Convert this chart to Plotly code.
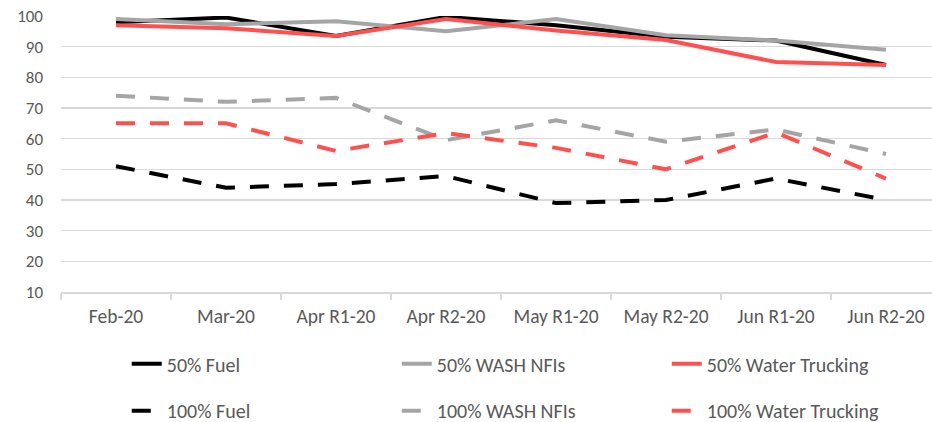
import plotly.graph_objects as go

categories = ["Feb-20", "Mar-20", "Apr R1-20", "Apr R2-20", "May R1-20", "May R2-20", "Jun R1-20", "Jun R2-20"]

fuel_50 = [98, 99.5, 93.5, 99.7, 97, 93.2, 92, 84]
wash_50 = [99, 97.3, 98.3, 95, 99, 93.7, 92, 89]
water_50 = [97, 96, 93.5, 99, 95.3, 92.2, 85, 84]
fuel_100 = [51, 44, 45.2, 47.8, 39, 40, 47, 40]
wash_100 = [74, 72, 73.3, 59.5, 66, 59, 63, 55]
water_100 = [65, 65, 56, 61.8, 57, 50, 62, 47]

y_ticks = [10, 20, 30, 40, 50, 60, 70, 80, 90, 100]

BLACK = "#000000"
GREY = "#A5A5A5"
RED = "#FF5050"
TEXT = "#595959"
GRID = "#D9D9D9"
FONT = "Carlito, Lato, sans-serif"
DASH = "19px,15px"

fig = go.Figure()

series = [
    ("50% Fuel", fuel_50, BLACK, "solid", "legend"),
    ("50% WASH NFIs", wash_50, GREY, "solid", "legend"),
    ("50% Water Trucking", water_50, RED, "solid", "legend"),
    ("100% Fuel", fuel_100, BLACK, DASH, "legend2"),
    ("100% WASH NFIs", wash_100, GREY, DASH, "legend2"),
    ("100% Water Trucking", water_100, RED, DASH, "legend2"),
]

for name, vals, color, dash, leg in series:
    fig.add_trace(go.Scatter(
        x=categories, y=vals, name=name, mode="lines",
        line=dict(color=color, width=4, dash=dash),
        legend=leg, hoverinfo="skip",
    ))

legend_common = dict(
    orientation="h",
    xanchor="left", yanchor="middle",
    font=dict(family=FONT, size=20, color=TEXT),
    entrywidth=225, entrywidthmode="pixels",
    bgcolor="rgba(0,0,0,0)",
    itemclick=False, itemdoubleclick=False,
)

fig.update_layout(
    width=932, height=422,
    margin=dict(l=61, r=0, t=16, b=130, autoexpand=False),
    paper_bgcolor="white", plot_bgcolor="white",
    font=dict(family=FONT, size=19, color=TEXT),
    showlegend=True,
    legend=dict(x=0.0755, y=-0.26, **legend_common),
    legend2=dict(x=0.0755, y=-0.43, **legend_common),
    xaxis=dict(
        type="category",
        range=[-0.5, 7.418],
        showgrid=False, automargin=False,
        showline=True, linecolor=GRID, linewidth=1.5,
        ticks="outside", tickson="boundaries", ticklen=6, tickcolor=GRID, tickwidth=1.5,
        tickfont=dict(family=FONT, size=19.5, color=TEXT),
        ticklabelstandoff=6,
    ),
    yaxis=dict(
        range=[10, 100],
        tickvals=y_ticks,
        showgrid=True, gridcolor=GRID, gridwidth=1.5,
        zeroline=False, showline=False, automargin=False,
        tickfont=dict(family=FONT, size=17, color=TEXT),
        ticklabelstandoff=17,
    ),
)

fig.write_html(
    "out.html",
    config={"displayModeBar": False, "staticPlot": True},
    post_script="document.body.style.margin='0';document.body.style.padding='0';",
)
